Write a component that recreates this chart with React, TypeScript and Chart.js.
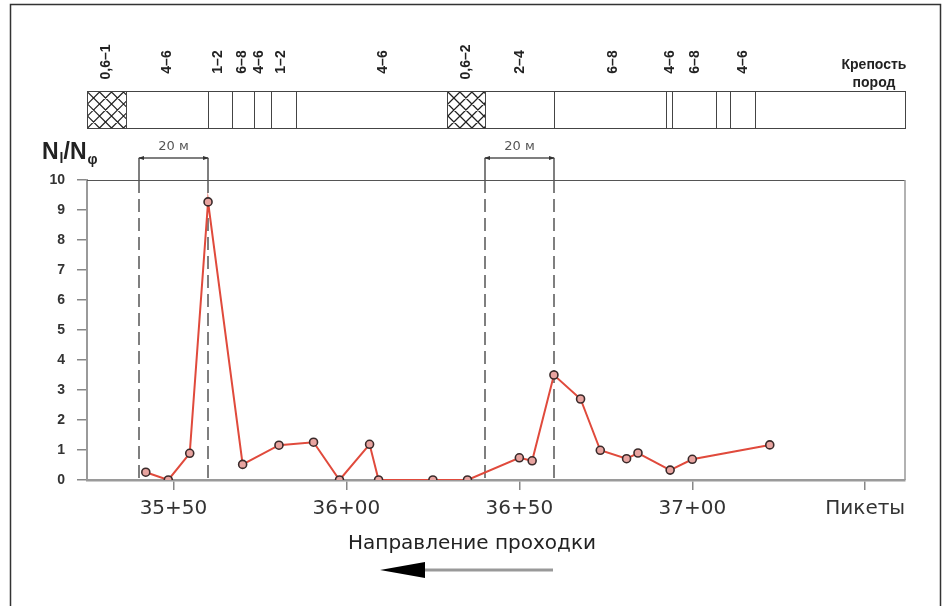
import React, { useEffect, useRef } from 'react';
import { Chart, registerables } from 'chart.js';

Chart.register(...registerables);

// ---------- data ----------
const stations = [3542, 3548.5, 3554.7, 3560, 3570, 3580.5, 3590.5, 3598, 3606.7, 3609.3, 3625, 3635, 3650, 3653.7, 3660, 3667.7, 3673.4, 3681, 3684.3, 3693.6, 3700, 3722.4];
const ratio = [0.26, 0, 0.89, 9.27, 0.52, 1.16, 1.26, 0, 1.19, 0, 0, 0, 0.74, 0.64, 3.5, 2.7, 0.99, 0.71, 0.9, 0.33, 0.69, 1.17];

const X_MIN = 3525;
const X_MAX = 3761.5;
const xTickValues = [3550, 3600, 3650, 3700, 3750];
const xTickLabels = ['35+50', '36+00', '36+50', '37+00', 'Пикеты'];

const stripInnerEdges = [3536.4, 3560, 3567, 3573.4, 3578.3, 3585.5, 3629.2, 3640.2, 3660, 3692.5, 3694.2, 3707, 3711, 3718.2];
const hatchedFrom = [3525, 3629.2];
const hatchedTo = [3536.4, 3640.2];
const stripLabels = ['0,6–1', '4–6', '1–2', '6–8', '4–6', '1–2', '4–6', '0,6–2', '2–4', '6–8', '4–6', '6–8', '4–6'];
const stripLabelPos = [3530.6, 3548.3, 3563, 3569.9, 3574.9, 3581.2, 3610.7, 3634.7, 3650.3, 3677.2, 3693.6, 3700.9, 3714.7];

const markerStart = [3540, 3640];
const markerEnd = [3560, 3660];
const markerText = '20 м';

const FONT = '"Liberation Sans", Arial, sans-serif';
const DFONT = '"DejaVu Sans", sans-serif';

export default function App() {
  const ref = useRef<HTMLCanvasElement>(null);

  useEffect(() => {
    const ctx = ref.current!.getContext('2d')!;

    const decor = {
      id: 'decor',
      beforeDraw(chart: any) {
        const c = chart.ctx;
        c.save();
        c.fillStyle = '#fff';
        c.fillRect(0, 0, chart.width, chart.height);
        c.strokeStyle = '#333';
        c.lineWidth = 1.5;
        c.strokeRect(10.5, 4.5, 930, 640);
        c.restore();
      },
      beforeDatasetsDraw(chart: any) {
        const c = chart.ctx;
        const a = chart.chartArea;
        const xs = chart.scales.x;
        c.save();
        // top and right borders
        c.strokeStyle = '#555';
        c.lineWidth = 1;
        c.beginPath();
        c.moveTo(a.left, a.top + 0.5);
        c.lineTo(a.right, a.top + 0.5);
        c.stroke();
        c.strokeStyle = '#999';
        c.lineWidth = 1.5;
        c.beginPath();
        c.moveTo(a.right, a.top);
        c.lineTo(a.right, a.bottom);
        c.stroke();
        // dimension markers
        const dimY = 158;
        for (let i = 0; i < markerStart.length; i++) {
          const x1 = Math.round(xs.getPixelForValue(markerStart[i]));
          const x2 = Math.round(xs.getPixelForValue(markerEnd[i]));
          c.strokeStyle = '#555';
          c.lineWidth = 1.5;
          c.setLineDash([]);
          c.beginPath();
          c.moveTo(x1, dimY); c.lineTo(x1, a.top);
          c.moveTo(x2, dimY); c.lineTo(x2, a.top);
          c.moveTo(x1, dimY); c.lineTo(x2, dimY);
          c.stroke();
          // small arrow marks
          c.fillStyle = '#333';
          c.beginPath();
          c.moveTo(x1 - 1, dimY); c.lineTo(x1 + 5, dimY - 2); c.lineTo(x1 + 5, dimY + 2); c.closePath();
          c.moveTo(x2 + 1, dimY); c.lineTo(x2 - 5, dimY - 2); c.lineTo(x2 - 5, dimY + 2); c.closePath();
          c.fill();
          c.setLineDash([13, 6]);
          c.strokeStyle = '#555';
          c.beginPath();
          c.moveTo(x1, a.top); c.lineTo(x1, a.bottom);
          c.moveTo(x2, a.top); c.lineTo(x2, a.bottom);
          c.stroke();
          c.setLineDash([]);
          c.fillStyle = '#555';
          c.font = `13px ${DFONT}`;
          c.textAlign = 'center';
          c.textBaseline = 'middle';
          c.fillText(markerText, (x1 + x2) / 2, 147);
        }
        c.restore();
      },
      afterDraw(chart: any) {
        const c = chart.ctx;
        const xs = chart.scales.x;
        const a = chart.chartArea;
        const top = 91.5, bot = 128.5;
        c.save();
        // hatched parts
        for (let i = 0; i < hatchedFrom.length; i++) {
          const h1 = xs.getPixelForValue(hatchedFrom[i]);
          const h2 = xs.getPixelForValue(hatchedTo[i]);
          c.save();
          c.beginPath();
          c.rect(h1, top, h2 - h1, bot - top);
          c.clip();
          c.strokeStyle = '#222';
          c.lineWidth = 1.2;
          c.beginPath();
          const hgt = bot - top;
          for (let k = -60; k < 120; k += 12) {
            c.moveTo(h1 + k, top); c.lineTo(h1 + k + hgt, bot);
            c.moveTo(h1 + k, bot); c.lineTo(h1 + k + hgt, top);
          }
          c.stroke();
          c.restore();
        }
        // strip box
        c.strokeStyle = '#444';
        c.lineWidth = 1;
        c.strokeRect(a.left + 0.5, top, a.right - a.left, bot - top);
        c.beginPath();
        stripInnerEdges.forEach((v) => {
          const x = Math.round(xs.getPixelForValue(v)) + 0.5;
          c.moveTo(x, top); c.lineTo(x, bot);
        });
        c.stroke();
        // strip labels
        c.fillStyle = '#222';
        c.font = `bold 14px ${FONT}`;
        c.textAlign = 'center';
        c.textBaseline = 'middle';
        stripLabels.forEach((t, i) => {
          const x = xs.getPixelForValue(stripLabelPos[i]);
          c.save();
          c.translate(x, 62);
          c.rotate(-Math.PI / 2);
          c.fillText(t, 0, 0);
          c.restore();
        });
        c.font = `bold 14px ${FONT}`;
        c.fillText('Крепость', 874, 65);
        c.fillText('пород', 874, 83);
        // y axis title N_l / N_phi
        c.textAlign = 'left';
        c.textBaseline = 'alphabetic';
        let x = 42;
        const base = 159;
        const big = `bold 23px ${FONT}`;
        const small = `bold 14px ${FONT}`;
        c.fillStyle = '#222';
        c.font = big; c.fillText('N', x, base); x += c.measureText('N').width;
        c.font = small; c.fillText('l', x + 1, base + 4); x += c.measureText('l').width + 1;
        c.font = big; c.fillText('/', x, base); x += c.measureText('/').width;
        c.fillText('N', x, base); x += c.measureText('N').width;
        c.font = small; c.fillText('φ', x + 1, base + 5);
        // direction
        c.font = `20px ${DFONT}`;
        c.fillStyle = '#222';
        c.textAlign = 'center';
        c.textBaseline = 'middle';
        c.fillText('Направление проходки', 472, 544);
        c.strokeStyle = '#999';
        c.lineWidth = 3;
        c.beginPath();
        c.moveTo(420, 570); c.lineTo(553, 570);
        c.stroke();
        c.fillStyle = '#000';
        c.beginPath();
        c.moveTo(380, 570); c.lineTo(425, 562); c.lineTo(425, 578); c.closePath();
        c.fill();
        c.restore();
      },
    };

    const chart = new Chart(ctx, {
      type: 'line',
      data: {
        datasets: [
          {
            data: stations.map((s, i) => ({ x: s, y: ratio[i] })),
            borderColor: '#e04a3c',
            borderWidth: 2,
            tension: 0,
            pointRadius: 4,
            pointBorderWidth: 1.6,
            pointBorderColor: '#3a2a2a',
            pointBackgroundColor: '#e8a4a0',
          },
        ],
      },
      options: {
        animation: false,
        responsive: false,
        layout: { padding: { top: 180, right: 41, left: 0, bottom: 0 } },
        plugins: { legend: { display: false }, tooltip: { enabled: false } },
        scales: {
          x: {
            type: 'linear',
            min: X_MIN,
            max: X_MAX,
            afterFit: (s: any) => { s.height = 126; },
            afterBuildTicks: (s: any) => { s.ticks = xTickValues.map((v) => ({ value: v })); },
            grid: { drawOnChartArea: false, drawTicks: true, tickLength: 10, color: '#888', lineWidth: 1.5 },
            border: { color: '#9a9a9a', width: 2.5 },
            ticks: {
              callback: (_v: any, i: number) => xTickLabels[i],
              font: { family: DFONT, size: 20 },
              color: '#333',
              padding: 7,
              maxRotation: 0,
              autoSkip: false,
            },
          },
          y: {
            min: 0,
            max: 10,
            afterFit: (s: any) => { s.width = 87; },
            ticks: { stepSize: 1, font: { family: FONT, size: 14, weight: 'bold' }, color: '#333', padding: 12 },
            grid: { drawOnChartArea: false, drawTicks: true, tickLength: 10, color: '#888', lineWidth: 1.5 },
            border: { color: '#9a9a9a', width: 2 },
          },
        },
      },
      plugins: [decor],
    } as any);

    return () => chart.destroy();
  }, []);

  return (
    <div style={{ position: 'absolute', left: 0, top: 0, width: 946, height: 606 }}>
      <canvas ref={ref} width={946} height={606} style={{ display: 'block' }} />
    </div>
  );
}
